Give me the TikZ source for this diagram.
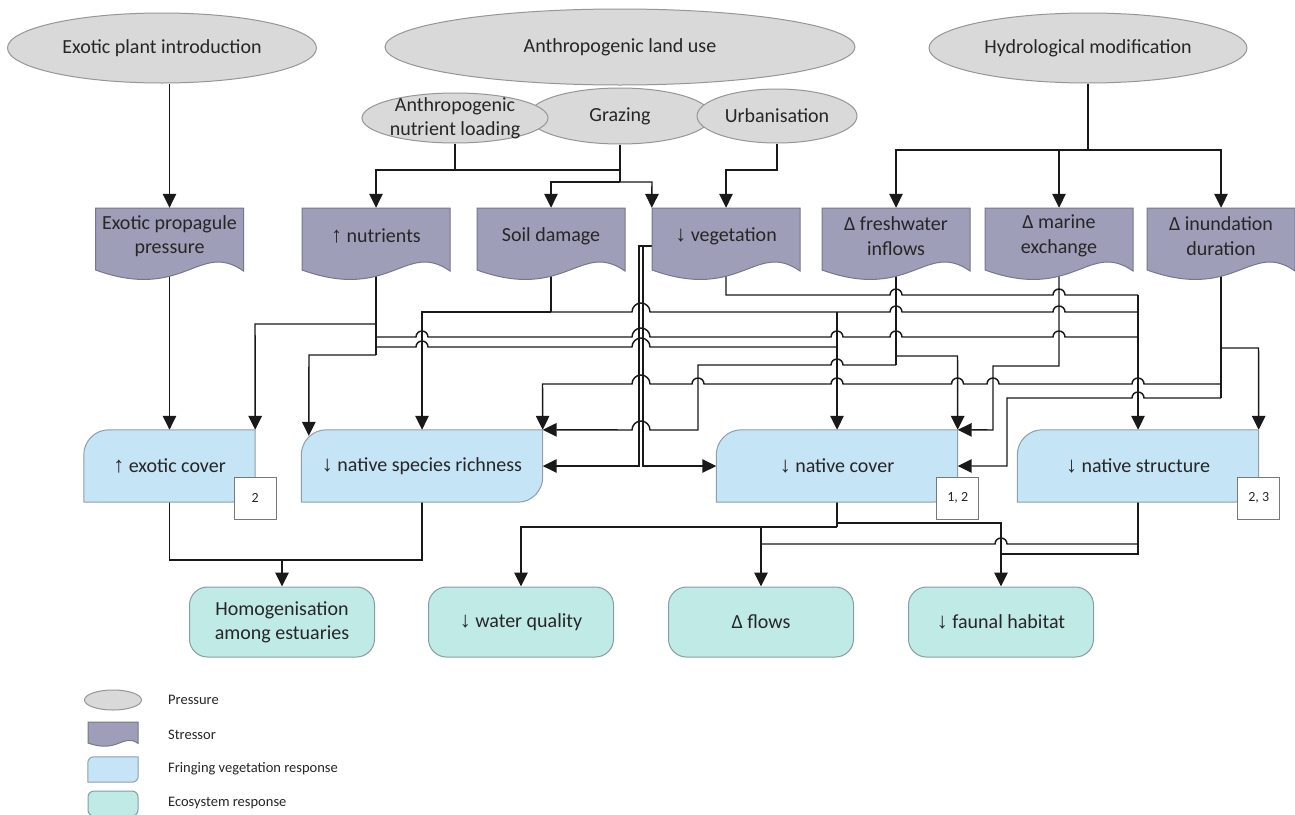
\documentclass[tikz,border=0pt]{standalone}
\usepackage{fontspec}
\setmainfont{Carlito}
\newfontfamily\arrowfont{Liberation Sans}
\usetikzlibrary{shapes.geometric,arrows.meta,calc}
\pgfdeclarelayer{back}
\pgfdeclarelayer{mid}
\pgfsetlayers{back,mid,main}
\newcommand\UpA{{\arrowfont\fontsize{22}{24}\selectfont ↑}}
\newcommand\DnA{{\arrowfont\fontsize{22}{24}\selectfont ↓}}
\definecolor{pfill}{RGB}{217,217,217}
\definecolor{pline}{RGB}{150,150,150}
\definecolor{sfill}{RGB}{158,158,184}
\definecolor{sline}{RGB}{118,118,142}
\definecolor{ffill}{RGB}{197,228,246}
\definecolor{fline}{RGB}{140,160,172}
\definecolor{efill}{RGB}{192,234,230}
\definecolor{eline}{RGB}{130,160,160}
\definecolor{tline}{RGB}{120,120,120}
% stressor "document" outline: x0, y0 (top), width, depth of the side edges
\newcommand\docshape[4]{%
  \draw[stline] (#1,#2) -- ({#1+#3},#2) -- ({#1+#3},{#2+1.016*#4})
    .. controls ({#1+0.7*#3},{#2+0.516*#4}) and ({#1+0.6*#3},{#2+1.516*#4}) .. (#1,{#2+#4}) -- cycle;}
% response box with rounded top-left and bottom-right corners
\newcommand\fringe[2]{%
  \draw[frline] ([yshift=-#2]#1.north west) arc[start angle=180,end angle=90,radius=#2]
    -- (#1.north east) -- ([yshift=#2]#1.south east) arc[start angle=0,end angle=-90,radius=#2]
    -- (#1.south west) -- cycle;}
\begin{document}
\begin{tikzpicture}[x=1pt,y=-1pt,
  txt/.style={font=\fontsize{20}{24.4}\selectfont, text=black!85, align=center, inner sep=0pt},
  pressure/.style={ellipse, draw=pline, fill=pfill, line width=1pt, inner sep=0pt},
  stxt/.style={txt, minimum width=148pt, minimum height=56pt},
  stline/.style={draw=sline, fill=sfill, line width=1pt},
  fr/.style={txt, minimum width=241pt, minimum height=72pt},
  frline/.style={draw=fline, fill=ffill, line width=1pt},
  eco/.style={txt, draw=eline, fill=efill, line width=1pt, rounded corners=18pt, minimum width=185pt, minimum height=70pt},
  tag/.style={draw=tline, fill=white, line width=0.8pt, minimum width=42pt, minimum height=42pt, inner sep=0pt, text=black!85, font=\fontsize{14}{17}\selectfont},
  legtxt/.style={anchor=west, inner sep=0pt, text=black!85, font=\fontsize{14.5}{17}\selectfont},
  conn/.style={draw=black!90, line width=1.45pt},
  arr/.style={conn, -{Triangle[length=14pt,width=13.5pt]}},
  hop/.style n args={3}{insert path={-- ({#1-#3},#2) arc[start angle=180,end angle=0,radius=#3pt]}},
  hopl/.style n args={3}{insert path={-- ({#1+#3},#2) arc[start angle=0,end angle=180,radius=#3pt]}}]
\useasboundingbox (0,0) rectangle (1295,814);

% ---------- pressures ----------
\node[pressure, minimum width=309pt, minimum height=70pt] (epi) at (162,48) {};
\node[txt] (epiL) at (epi) {Exotic plant introduction};
\node[pressure, minimum width=470pt, minimum height=76pt] (alu) at (620,47) {};
\node[txt] (aluL) at (alu) {Anthropogenic land use};
\node[pressure, minimum width=318pt, minimum height=70pt] (hyd) at (1088,48) {};
\node[txt] (hydL) at (hyd) {Hydrological modification};
\node[pressure, minimum width=183pt, minimum height=56pt] (gra) at (620,116) {};
\node[pressure, minimum width=186pt, minimum height=50pt] (anl) at (455,118) {};
\node[pressure, minimum width=160pt, minimum height=54pt] (urb) at (777,116) {};
\node[txt] (graL) at (gra) {Grazing};
\node[txt] (anlL) at (anl) {Anthropogenic\\nutrient loading};
\node[txt] (urbL) at (urb) {Urbanisation};

% ---------- stressors ----------
\node[stxt] (epp)  at (169.5,236) {Exotic propagule\\pressure};
\node[stxt] (nut)  at (376,236) {\UpA\ nutrients};
\node[stxt] (soil) at (551,236) {Soil damage};
\node[stxt] (veg)  at (726,236) {\DnA\ vegetation};
\node[stxt] (fw)   at (896,236) {Δ freshwater\\inflows};
\node[stxt] (mar)  at (1059,236) {Δ marine\\exchange};
\node[stxt] (inu)  at (1221,236) {Δ inundation\\duration};

% ---------- fringing vegetation responses ----------
\node[txt, minimum width=171pt, minimum height=72pt] (ec) at (169.5,466) {\UpA\ exotic cover};
\node[fr] (nsr) at (422,466) {\DnA\ native species richness};
\node[fr] (nc)  at (837,466) {\DnA\ native cover};
\node[fr] (ns)  at (1138,466) {\DnA\ native structure};

% ---------- ecosystem responses ----------
\node[eco] (hom) at (282,622) {Homogenisation\\among estuaries};
\node[eco] (wq)  at (521,622) {\DnA\ water quality};
\node[eco] (fl)  at (761,622) {Δ flows};
\node[eco] (fh)  at (1001,622) {\DnA\ faunal habitat};

% ---------- legend ----------
\node[pressure, minimum width=57pt, minimum height=20pt] (lgP) at (113,700) {};
\node[legtxt] (lgPt) at (168,700) {Pressure};
\node[legtxt] (lgSt) at (168,735) {Stressor};
\node[inner sep=0pt, minimum width=50pt, minimum height=25pt] (lgF) at (113,769.5) {};
\node[legtxt] (lgFt) at (168,769) {Fringing vegetation response};
\node[draw=eline, fill=efill, line width=1pt, rounded corners=6pt, minimum width=50pt, minimum height=25pt, inner sep=0pt] (lgE) at (113,803.5) {};
\node[legtxt] (lgEt) at (168,803) {Ecosystem response};

% ---------- shapes under the labels ----------
\begin{pgfonlayer}{mid}
  \docshape{95.5}{208}{148}{62}
  \docshape{302}{208}{148}{62}
  \docshape{477}{208}{148}{62}
  \docshape{652}{208}{148}{62}
  \docshape{822}{208}{148}{62}
  \docshape{985}{208}{148}{62}
  \docshape{1147}{208}{148}{62}
  \docshape{88}{722}{50}{21}
  \fringe{ec}{25pt}
  \fringe{nsr}{25pt}
  \fringe{nc}{25pt}
  \fringe{ns}{25pt}
  \fringe{lgF}{6pt}
\end{pgfonlayer}

% reference tags
\node[tag] (t1) at ([yshift=4pt]ec.south east) {2};
\node[tag] (t2) at ([yshift=4pt]nc.south east) {1, 2};
\node[tag] (t3) at ([yshift=4pt]ns.south east) {2, 3};

% ---------- connectors ----------
\begin{pgfonlayer}{back}
  \fill[white] (0,0) rectangle (1295,814);
  % pressures to stressors
  \draw[arr] (epi.south -| epp.north) -- (epp.north);
  \draw[arr] (anl.south) -- (455,170) -- (376,170) -- (nut.north);
  \draw[conn] (455,170) -- (620,170);
  \draw[conn] (gra.south) -- (620,182);
  \draw[arr] (620,182) -- (551,182) -- (soil.north);
  \draw[arr] (620,182) -- (652,182) -- (veg.north west);
  \draw[arr] (urb.south) -- (777,170) -- (726,170) -- (veg.north);
  \draw[conn] (hyd.south) -- (1088,150);
  \draw[arr] (1088,150) -- (896,150) -- (fw.north);
  \draw[arr] (1059,150) -- (mar.north);
  \draw[arr] (1088,150) -- (1221,150) -- (inu.north);

  % stressors to fringing vegetation responses
  \draw[arr] (epp.south) -- (ec.north);
  \draw[conn] (nut.south) -- (376,355);
  \draw[arr] (376,324) -- (255,324) -- (ec.north east);
  \draw[arr] (376,355) -- (309,355) -- ([xshift=7.5pt,yshift=-6pt]nsr.north west);
  \draw[conn] (376,337) [hop={422}{337}{6}] [hop={641}{337}{9}] [hop={837}{337}{6}]
    [hop={896}{337}{6}] [hop={1059}{337}{6}] -- (1138,337);
  \draw[conn] (376,347) [hop={422}{347}{6}] [hop={641}{347}{9}] -- (837,347);
  \draw[conn] (soil.south) -- (551,312);
  \draw[arr] (551,312) -- (422,312) -- (nsr.north);
  \draw[conn] (551,312) [hop={641}{312}{9}] -- (837,312) [hop={896}{312}{6}]
    [hop={1059}{312}{6}] -- (1138,312);
  \draw[arr] (837,312) -- (nc.north);
  \draw[conn] (veg.south) -- (726,295) [hop={896}{295}{6}] [hop={1059}{295}{6}] -- (1138,295);
  \draw[arr] (1138,295) -- (ns.north);
  \draw[arr] ([yshift=-10pt]veg.west) -- (639,246) -- (639,466) -- (nsr.east);
  \draw[arr] (643,246) -- (643,466) -- (nc.west);
  \draw[conn] (fw.south) -- (896,365);
  \draw[arr] (896,356) -- (957.5,356) -- (nc.north east);
  \draw[arr] (896,365) [hopl={837}{365}{6}] -- (698,365) -- (698,430)
    [hopl={641}{430}{9}] -- (nsr.north east);
  \draw[arr] (mar.south) -- (1059,366) -- (993,366) -- (993,430) -- (nc.north east);
  \draw[conn] (inu.south) -- (1221,398);
  \draw[arr] (1221,348) -- (1258.5,348) -- (ns.north east);
  \draw[arr] (1221,384) [hopl={1138}{384}{6}] [hopl={993}{384}{6}] [hopl={957.5}{384}{6}]
    [hopl={837}{384}{6}] [hopl={698}{384}{6}] [hopl={641}{384}{9}] -- (542.5,384) -- (nsr.north east);
  \draw[arr] (1221,398) [hopl={1138}{398}{6}] -- (1007,398) -- (1007,466) -- (nc.east);

  % fringing vegetation responses to ecosystem responses
  \draw[conn] (ec.south) -- (169.5,560) -- (422,560) -- (nsr.south);
  \draw[arr] (282,560) -- (hom.north);
  \draw[conn] (nc.south) -- (837,527);
  \draw[arr] (837,527) -- (521,527) -- (wq.north);
  \draw[arr] (761,527) -- (fl.north);
  \draw[arr] (837,523) -- (1001,523) -- (fh.north);
  \draw[conn] (ns.south) -- (1138,554) -- (1001,554);
  \draw[conn] (1138,544) [hopl={1001}{544}{6}] -- (761,544);
\end{pgfonlayer}
\end{tikzpicture}
\end{document}
